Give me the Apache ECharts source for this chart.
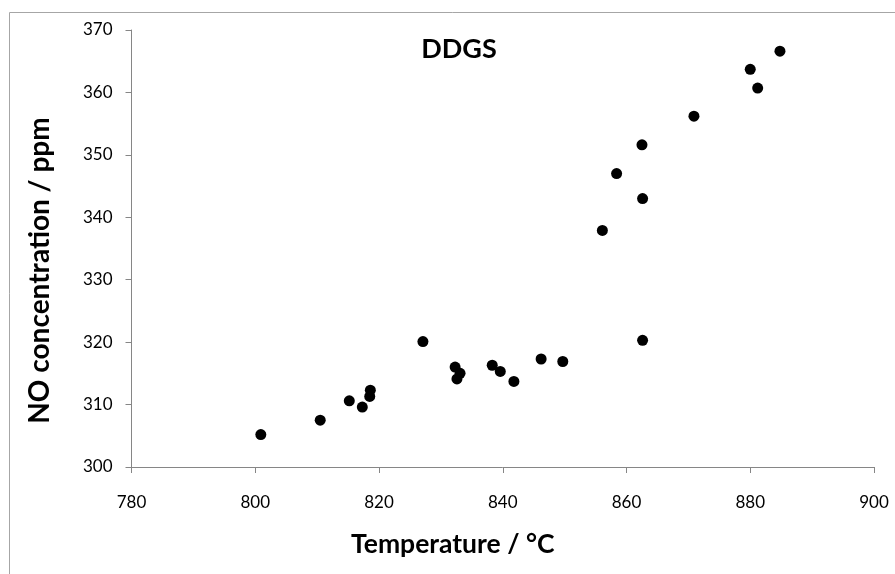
<!DOCTYPE html>
<html>
<head>
<meta charset="utf-8">
<script src="https://cdn.jsdelivr.net/npm/echarts@6/dist/echarts.min.js"></script>
<style>
  html, body { margin: 0; padding: 0; background: #fff; }
  #chart { width: 895px; height: 574px; }
</style>
</head>
<body>
<div id="chart"></div>
<script>
// Reactor temperature (°C) and measured NO concentration (ppm)
const temperature = [800.9, 810.5, 815.2, 817.3, 818.6, 818.5, 827.1, 832.3, 833.1, 832.6,
  838.3, 839.6, 841.8, 846.2, 849.7, 862.6, 884.8, 880.0, 881.2, 870.9, 862.5, 858.4, 862.6, 856.1];
const noConcentration = [305.2, 307.5, 310.6, 309.6, 312.3, 311.3, 320.1, 316.0, 315.0, 314.1,
  316.3, 315.3, 313.7, 317.3, 316.9, 320.3, 366.6, 363.7, 360.7, 356.2, 351.6, 347.0, 343.0, 337.9];

const xTicks = [780, 800, 820, 840, 860, 880, 900];
const yTicks = [300, 310, 320, 330, 340, 350, 360, 370];

const seriesName = 'DDGS';
const xTitle = 'Temperature / °C';
const yTitle = 'NO concentration / ppm';

const points = temperature.map((t, i) => [t, noConcentration[i]]);

const FONT = 'Lato, "Liberation Sans", sans-serif';
const axisGray = '#868686';

const chart = echarts.init(document.getElementById('chart'), null, { renderer: 'canvas' });

chart.setOption({
  animation: false,
  backgroundColor: '#fff',
  textStyle: { fontFamily: FONT },
  graphic: [{
    type: 'rect',
    shape: { x: 9.5, y: 12.5, width: 900, height: 600 },
    style: { fill: 'none', stroke: '#a6a6a6', lineWidth: 1 },
    silent: true
  }],
  title: {
    text: seriesName,
    left: 454, top: 44,
    textAlign: 'center', textVerticalAlign: 'middle',
    textStyle: { fontFamily: FONT, fontWeight: 'bold', fontSize: 27, color: '#000' }
  },
  grid: { left: 131.5, right: 21, top: 30, bottom: 107, containLabel: false },
  xAxis: {
    type: 'value',
    min: xTicks[0], max: xTicks[xTicks.length - 1], interval: 20,
    name: xTitle,
    nameLocation: 'middle',
    nameGap: 64,
    nameTextStyle: { fontFamily: FONT, fontWeight: 'bold', fontSize: 26.5, color: '#000', padding: [0, 100, 0, 0] },
    axisLine: { show: true, onZero: false, lineStyle: { color: axisGray, width: 1 } },
    axisTick: { show: true, inside: false, length: 6, lineStyle: { color: axisGray } },
    axisLabel: { margin: 27, fontFamily: FONT, fontSize: 17, color: '#000' },
    splitLine: { show: false }
  },
  yAxis: {
    type: 'value',
    min: yTicks[0], max: yTicks[yTicks.length - 1], interval: 10,
    name: yTitle,
    nameLocation: 'middle',
    nameGap: 78,
    nameTextStyle: { fontFamily: FONT, fontWeight: 'bold', fontSize: 28, color: '#000', padding: [0, 44, 0, 0] },
    axisLine: { show: true, onZero: false, lineStyle: { color: axisGray, width: 1 } },
    axisTick: { show: true, inside: false, length: 6, lineStyle: { color: axisGray } },
    axisLabel: { margin: 19, fontFamily: FONT, fontSize: 17, color: '#000' },
    splitLine: { show: false }
  },
  series: [{
    name: seriesName,
    type: 'scatter',
    data: points,
    symbol: 'circle',
    symbolSize: 11,
    itemStyle: { color: '#000', opacity: 1 }
  }]
});
</script>
</body>
</html>
